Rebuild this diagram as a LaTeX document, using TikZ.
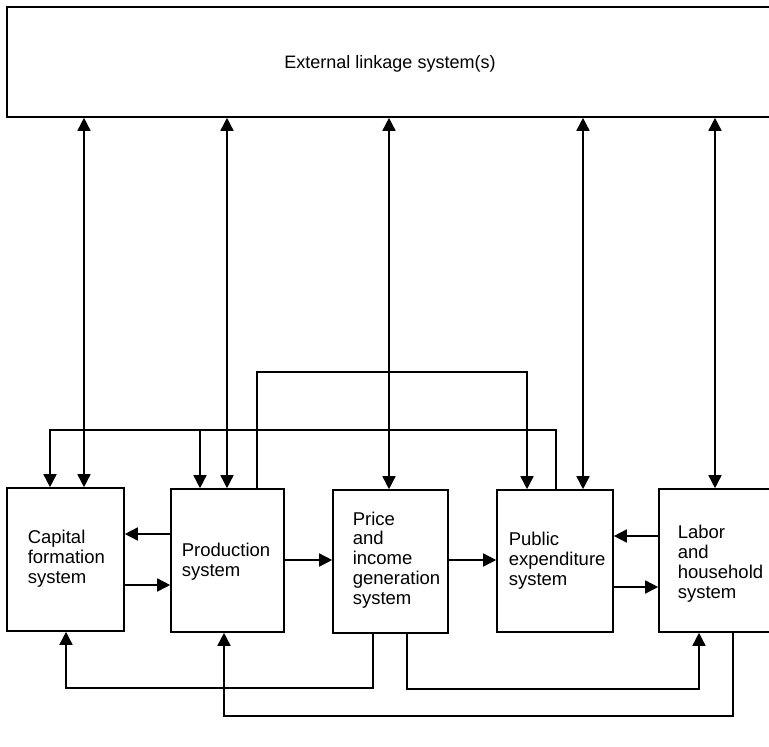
\documentclass[tikz,border=0pt]{standalone}
\usepackage{fontspec}
\setmainfont{Liberation Sans}
\usetikzlibrary{arrows.meta}
\begin{document}
\begin{tikzpicture}[x=1pt,y=-1pt,line width=1.6pt,
  box/.style={draw,inner sep=0pt,minimum height=143pt},
  arr/.style={-{Triangle[length=13pt,width=13pt]}},
  darr/.style={{Triangle[length=13pt,width=13pt]}-{Triangle[length=13pt,width=13pt]}},
  lbl/.style={anchor=base west,inner sep=0pt,align=left,font=\fontsize{18.5}{19.7}\selectfont}]
\useasboundingbox (0,0) rectangle (769,747);
\clip (0,0) rectangle (769,747);
% boxes
\node[draw,inner sep=0pt,minimum width=773pt,minimum height=110pt] (ext) at (393.5,62) {};
\node[anchor=base,inner sep=0pt,font=\fontsize{18}{20}\selectfont] (exttxt) at (390,68) {External linkage system(s)};
\node[box,minimum width=117pt] (cap) at (65.5,559.5) {};
\node[box,minimum width=113pt] (prod) at (227.5,560.5) {};
\node[box,minimum width=115pt] (price) at (390.5,561.5) {};
\node[box,minimum width=116pt,minimum height=142pt] (pub) at (555,561) {};
\node[box,minimum width=131pt] (lab) at (724.5,560.5) {};
% texts (base anchor = baseline of the last line)
\node[lbl] (captxt) at (27,583) {Capital\\formation\\system};
\node[lbl] (prodtxt) at (181,576) {Production\\system};
\node[lbl] (pricetxt) at (352,604) {Price\\and\\income\\generation\\system};
\node[lbl] (pubtxt) at (508,585) {Public\\expenditure\\system};
\node[lbl] (labtxt) at (677,598) {Labor\\and\\household\\system};
% links with external system
\draw[darr] (ext.south -| 84,0) -- (cap.north -| 84,0);
\draw[darr] (ext.south -| 227,0) -- (prod.north -| 227,0);
\draw[darr] (ext.south -| 389,0) -- (price.north -| 389,0);
\draw[darr] (ext.south -| 583,0) -- (pub.north -| 583,0);
\draw[darr] (ext.south -| 715,0) -- (lab.north -| 715,0);
% top loops
\coordinate (j1) at (200,430);
\draw[arr] (pub.north -| 556,0) -- (556,430) -| (cap.north -| 50,0);
\draw[arr] (j1) -- (prod.north -| j1);
\draw[arr] (prod.north -| 257,0) -- (257,372) -| (pub.north -| 527,0);
% horizontal links
\draw[arr] (prod.west |- 0,534) -- (cap.east |- 0,534);
\draw[arr] (cap.east |- 0,585) -- (prod.west |- 0,585);
\draw[arr] (prod.east |- 0,560) -- (price.west |- 0,560);
\draw[arr] (price.east |- 0,560) -- (pub.west |- 0,560);
\draw[arr] (lab.west |- 0,536) -- (pub.east |- 0,536);
\draw[arr] (pub.east |- 0,587) -- (lab.west |- 0,587);
% bottom loops
\draw[arr] (price.south -| 373,0) -- (373,688) -| (cap.south -| 66,0);
\draw[arr] (price.south -| 407,0) -- (407,689) -| (lab.south -| 699,0);
\draw[arr] (lab.south -| 733,0) -- (733,716) -| (prod.south -| 224,0);
\end{tikzpicture}
\end{document}
